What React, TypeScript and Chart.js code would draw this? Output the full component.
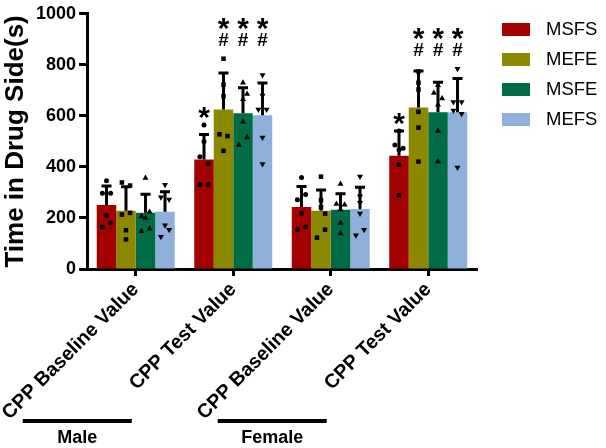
import React, { useEffect, useRef } from 'react';
import { Chart, registerables } from 'chart.js';
import { drawPoint } from 'chart.js/helpers';

Chart.register(...registerables);

const FONT = "'Liberation Sans', Arial, sans-serif";

const categories = ['CPP Baseline Value', 'CPP Test Value', 'CPP Baseline Value', 'CPP Test Value'];
const seriesNames = ['MSFS', 'MEFE', 'MSFE', 'MEFS'];
const seriesColors = ['#A30000', '#8C8800', '#006C46', '#8FB0DA'];
const pointStyles = ['circle', 'rect', 'triangle', 'triangle'];
const pointRotations = [0, 0, 0, 180];
const pointRadii = [2.5, 3.2, 3.5, 3.5];
const yTicks = [0, 200, 400, 600, 800, 1000];

// means (bar heights) per category
const msfsMean = [251, 429, 243, 444];
const mefeMean = [228, 625, 228, 633];
const msfeMean = [220, 610, 232, 614];
const mefsMean = [224, 602, 235, 614];

// standard deviations (upper error bars)
const msfsSD = [74, 98, 80, 97];
const mefeSD = [94, 143, 82, 143];
const msfeSD = [73, 100, 63, 118];
const mefsSD = [79, 127, 85, 132];

// individual animals per category
const msfsPoints = [[346, 297, 297, 210, 165, 180], [564, 500, 440, 412, 330, 331], [359, 271, 292, 217, 154, 165], [541, 486, 473, 467, 409, 288]];
const mefePoints = [[339, 327, 213, 220, 152, 116], [824, 722, 677, 528, 521, 463], [362, 270, 242, 217, 154, 123], [774, 730, 703, 616, 554, 421]];
const msfePoints = [[357, 206, 200, 223, 148, 158], [730, 686, 665, 577, 515, 486], [333, 255, 252, 233, 180, 139], [720, 690, 668, 644, 541, 421]];
const mefsPoints = [[330, 281, 272, 171, 154, 126], [760, 680, 625, 625, 515, 411], [362, 285, 260, 217, 154, 132], [785, 654, 654, 621, 608, 398]];

// horizontal side of each point within its bar (-1 left, 0 centre, 1 right)
const msfsSide = [[0, -1, 1, 0, -1, 1], [0, 0, -1, 1, -1, 1], [0, -1, 1, 0, -1, 1], [0, -1, 1, 0, 0, 0]];
const mefeSide = [[-1, 1, -1, 1, 0, 0], [0, 0, 0, -1, 1, 0], [0, 0, 0, 1, 1, -1], [0, 0, 0, 0, 0, 0]];
const msfeSide = [[0, -1, 0, 1, -1, 1], [0, 1, 0, 0, 1, -1], [0, -1, 1, 0, 0, 0], [0, -1, 1, 0, 0, 0]];
const mefsSide = [[0, -1, 1, 0, 1, -1], [0, 0, -1, 1, 0, 0], [0, 0, 0, 0, 1, -1], [0, -1, 1, -1, 1, 0]];

// significance marks [category][series]
const starMarks = [[0, 0, 0, 0], [1, 1, 1, 1], [0, 0, 0, 0], [1, 1, 1, 1]];
const hashMarks = [[0, 0, 0, 0], [0, 1, 1, 1], [0, 0, 0, 0], [0, 1, 1, 1]];

const groupNames = ['Male', 'Female'];
const groupFirstCategory = [0, 2];

const means = [msfsMean, mefeMean, msfeMean, mefsMean];
const sds = [msfsSD, mefeSD, msfeSD, mefsSD];
const points = [msfsPoints, mefePoints, msfePoints, mefsPoints];
const sides = [msfsSide, mefeSide, msfeSide, mefsSide];

const overlayPlugin = {
  id: 'overlay',
  afterDatasetsDraw(chart: any) {
    const ctx = chart.ctx;
    const y = chart.scales.y;
    ctx.save();
    // individual data points, jittered inside their bar
    ctx.fillStyle = '#000';
    ctx.strokeStyle = '#000';
    for (let s = 0; s < seriesNames.length; s++) {
      const meta = chart.getDatasetMeta(s);
      meta.data.forEach((bar: any, c: number) => {
        const jitter = bar.width * 0.21;
        points[s][c].forEach((v, k) => {
          drawPoint(
            ctx,
            { pointStyle: pointStyles[s], rotation: pointRotations[s], radius: pointRadii[s], borderWidth: 0 } as any,
            bar.x + sides[s][c][k] * jitter,
            y.getPixelForValue(v)
          );
        });
      });
    }
    // error bars (mean + SD)
    ctx.lineWidth = 3;
    for (let s = 0; s < seriesNames.length; s++) {
      const meta = chart.getDatasetMeta(s);
      meta.data.forEach((bar: any, c: number) => {
        const top = y.getPixelForValue(means[s][c] + sds[s][c]);
        ctx.beginPath();
        ctx.moveTo(bar.x, bar.y);
        ctx.lineTo(bar.x, top);
        ctx.moveTo(bar.x - 5, top);
        ctx.lineTo(bar.x + 5, top);
        ctx.stroke();
      });
    }
    ctx.restore();
  },
  afterDraw(chart: any) {
    const ctx = chart.ctx;
    const y = chart.scales.y;
    const x = chart.scales.x;
    ctx.save();
    ctx.fillStyle = '#000';
    const ownTop = (s: number, c: number) =>
      y.getPixelForValue(Math.max(means[s][c] + sds[s][c], ...points[s][c]));
    const drawCentered = (text: string, font: string, px: number, cy: number) => {
      ctx.font = font;
      ctx.textAlign = 'center';
      ctx.textBaseline = 'alphabetic';
      const m = ctx.measureText(text);
      const base = cy - (m.actualBoundingBoxDescent - m.actualBoundingBoxAscent) / 2;
      ctx.fillText(text, px, base);
    };
    const starFont = `bold 30px ${FONT}`;
    const hashFont = `bold 19px ${FONT}`;
    for (let c = 0; c < categories.length; c++) {
      let catTop = Infinity;
      for (let s = 0; s < seriesNames.length; s++) catTop = Math.min(catTop, ownTop(s, c));
      for (let s = 0; s < seriesNames.length; s++) {
        const bar = chart.getDatasetMeta(s).data[c];
        if (hashMarks[c][s]) {
          const hy = catTop - 19;
          drawCentered('#', hashFont, bar.x, hy);
          if (starMarks[c][s]) drawCentered('*', starFont, bar.x, hy - 16);
        } else if (starMarks[c][s]) {
          drawCentered('*', starFont, bar.x, ownTop(s, c) - 12);
        }
      }
    }
    // group underlines and names
    groupNames.forEach((name, g) => {
      const right = x.getPixelForValue(groupFirstCategory[g]) - 4;
      const left = right - 109;
      ctx.fillRect(left, 419, right - left, 4);
      ctx.font = `bold 18px ${FONT}`;
      ctx.textAlign = 'center';
      ctx.textBaseline = 'middle';
      ctx.fillText(name, (left + right) / 2, 438);
    });
    // legend
    seriesNames.forEach((name, s) => {
      const top = 23 + s * 30;
      ctx.fillStyle = seriesColors[s];
      ctx.fillRect(502, top, 28, 13);
      ctx.fillStyle = '#000';
      ctx.font = `18.5px ${FONT}`;
      ctx.textAlign = 'left';
      ctx.textBaseline = 'middle';
      ctx.fillText(name, 546, top + 7);
    });
    ctx.restore();
  },
};

export default function App() {
  const ref = useRef<HTMLCanvasElement | null>(null);
  useEffect(() => {
    if (!ref.current) return;
    const barSets = seriesNames.map((name, s) => ({
      label: name,
      data: means[s],
      backgroundColor: seriesColors[s],
      borderWidth: 0,
      categoryPercentage: 0.8,
      barPercentage: 1,
    }));
    const chart = new Chart(ref.current, {
      type: 'bar',
      data: { labels: categories, datasets: barSets },
      options: {
        animation: false,
        responsive: false,
        layout: { padding: { top: 12, right: 129, left: 0, bottom: 0 } },
        plugins: { legend: { display: false }, tooltip: { enabled: false } },
        scales: {
          x: {
            offset: true,
            border: { display: true, color: '#000', width: 3 },
            grid: { offset: false, drawOnChartArea: false, drawTicks: true, tickLength: 7, tickWidth: 3, color: '#000' },
            ticks: {
              autoSkip: false,
              minRotation: 45,
              maxRotation: 45,
              color: '#000',
              padding: 2,
              font: { family: FONT, size: 19.7, weight: 'bold' },
            },
            afterFit(scale: any) {
              scale.height = 179;
              scale.paddingLeft = 0;
              scale.paddingRight = 0;
            },
          },
          y: {
            min: 0,
            max: 1000,
            border: { display: true, color: '#000', width: 3 },
            grid: { drawOnChartArea: false, drawTicks: true, tickLength: 8, tickWidth: 3, color: '#000' },
            afterBuildTicks(scale: any) {
              scale.ticks = yTicks.map((v) => ({ value: v }));
            },
            ticks: {
              color: '#000',
              padding: 3,
              callback: (v: any) => String(v),
              font: { family: FONT, size: 18, weight: 'bold' },
            },
            title: {
              display: true,
              text: 'Time in Drug Side(s)',
              color: '#000',
              padding: { top: 0, bottom: 0 },
              font: { family: FONT, size: 26, weight: 'bold' },
            },
            afterFit(scale: any) {
              scale.width = 87;
            },
          },
        },
      } as any,
      plugins: [overlayPlugin],
    });
    return () => chart.destroy();
  }, []);
  return (
    <div style={{ position: 'absolute', left: 0, top: 0, width: 606, height: 448, background: '#fff' }}>
      <canvas ref={ref} width={606} height={448} style={{ display: 'block' }} />
    </div>
  );
}
